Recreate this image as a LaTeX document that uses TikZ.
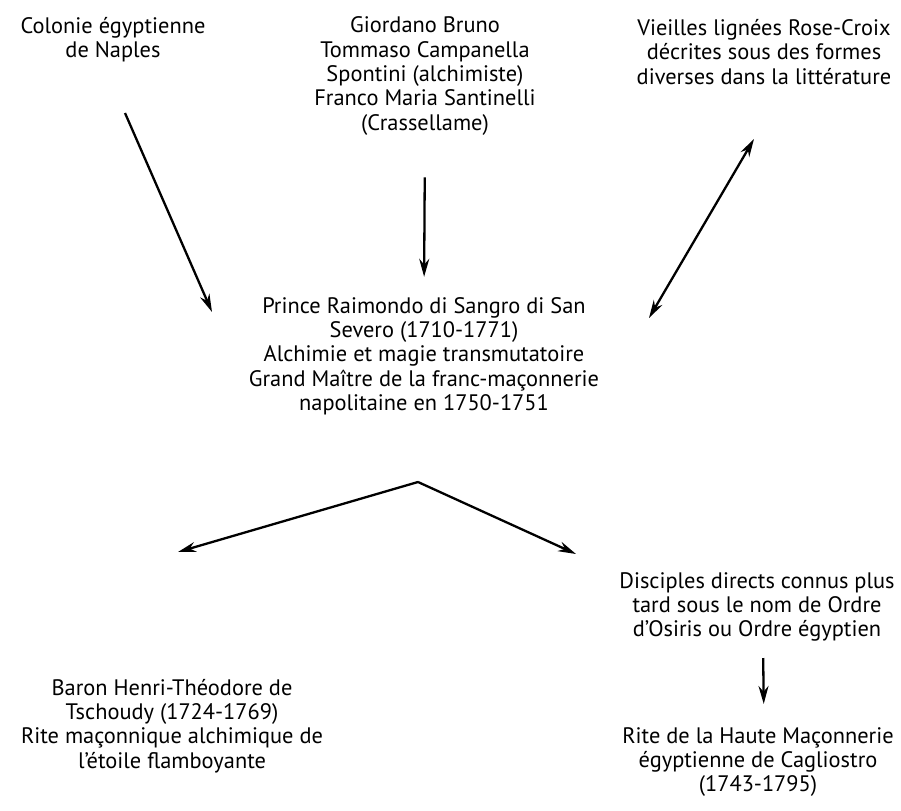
\documentclass[tikz,border=0pt]{standalone}
\usepackage{fontspec}
\setmainfont{PT Sans}
\usetikzlibrary{arrows.meta}
\tikzstyle{entry} = [align=center, inner sep=0pt, font=\fontsize{11.2}{12.15}\selectfont]
\tikzstyle{arrow} = [line width=1.15pt, -{Stealth[length=9pt,width=5pt]}]
\tikzstyle{twoway} = [line width=1.15pt, {Stealth[length=9pt,width=5pt]}-{Stealth[length=9pt,width=5pt]}]

\begin{document}
\begin{tikzpicture}[x=0.5pt, y=-0.5pt]
    \useasboundingbox (0,0) rectangle (901,810);

    \node (colonie) [entry] at (113,40) {Colonie égyptienne\\de Naples};
    \node (giordano) [entry] at (425,76) {Giordano Bruno\\Tommaso Campanella\\Spontini (alchimiste)\\Franco Maria Santinelli\\(Crassellame)};
    \node (vieilles) [entry] at (764,52) {Vieilles lignées Rose-Croix\\décrites sous des formes\\diverses dans la littérature};
    \node (prince) [entry] at (424,356) {Prince Raimondo di Sangro di San\\Severo (1710-1771)\\Alchimie et magie transmutatoire\\Grand Maître de la franc-maçonnerie\\napolitaine en 1750-1751};
    \node (baron) [entry] at (172,726) {Baron Henri-Théodore de\\Tschoudy (1724-1769)\\Rite maçonnique alchimique de\\l’étoile flamboyante};
    \node (disciples) [entry] at (757,607) {Disciples directs connus plus\\tard sous le nom de Ordre\\d’Osiris ou Ordre égyptien};
    \node (rite) [entry] at (758,762) {Rite de la Haute Maçonnerie\\égyptienne de Cagliostro\\(1743-1795)};

    \coordinate (c1) at (125,113);
    \coordinate (c2) at (212,312);
    \coordinate (v1) at (754,139);
    \coordinate (v2) at (649,318);
    \coordinate (split) at (418,482);
    \coordinate (b1) at (178,552);
    \coordinate (d1) at (576,554);

    \draw[arrow] (c1) -- (c2);
    \draw[arrow, shorten <=21pt, shorten >=10pt] (giordano.south) -- (prince.north);
    \draw[twoway] (v1) -- (v2);
    \draw[arrow] (split) -- (b1);
    \draw[arrow] (split) -- (d1);
    \draw[arrow, shorten <=8pt, shorten >=11.5pt] ([xshift=3pt]disciples.south) -- ([xshift=3pt]rite.north);

\end{tikzpicture}
\end{document}
